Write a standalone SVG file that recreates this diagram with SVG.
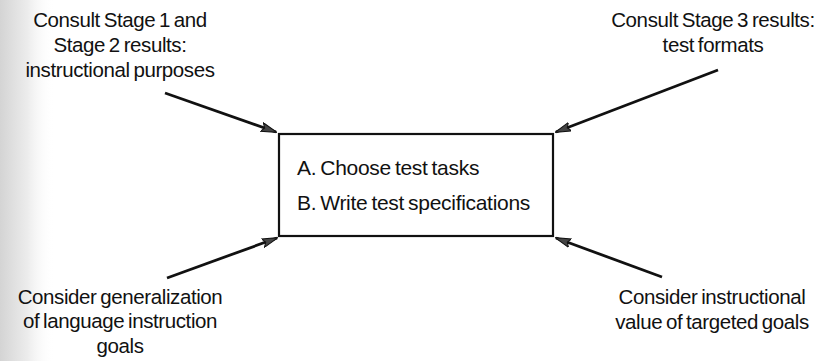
<svg xmlns="http://www.w3.org/2000/svg" width="832" height="361" viewBox="0 0 832 361">
<style>
text{font-family:"Liberation Sans",Arial,sans-serif;font-size:20.5px;fill:#111;letter-spacing:-0.4px;word-spacing:-1.5px}
.c{text-anchor:middle}
.b{font-size:21px;letter-spacing:-0.3px}
.box{fill:#fff;stroke:#111;stroke-width:2.2}
.arr{stroke:#111;stroke-width:2.8;fill:none;marker-end:url(#ah)}
</style>
<defs>
<linearGradient id="edge" x1="0" y1="0" x2="1" y2="0">
<stop offset="0" stop-color="#d4d4d4"/>
<stop offset="0.5" stop-color="#ececec"/>
<stop offset="1" stop-color="#ffffff" stop-opacity="0"/>
</linearGradient>
<marker id="ah" viewBox="0 0 16 10" refX="15" refY="5" markerWidth="16" markerHeight="10" markerUnits="userSpaceOnUse" orient="auto">
<path d="M0,0.5 L16,5 L0,9.5 L3,5 Z" fill="#444" stroke="#111" stroke-width="1"/>
</marker>
</defs>
<rect x="0" y="0" width="55" height="361" fill="url(#edge)"/>
<g id="connectors">
<line class="arr" x1="165" y1="93" x2="276" y2="132"/>
<line class="arr" x1="718" y1="70" x2="556" y2="132"/>
<line class="arr" x1="167" y1="278" x2="277" y2="238"/>
<line class="arr" x1="662" y1="277" x2="556" y2="238"/>
</g>
<g id="main">
<rect class="box" x="279" y="134" width="274" height="102"/>
<text class="b" x="297" y="175">A. Choose test tasks</text>
<text class="b" x="297" y="210">B. Write test specifications</text>
</g>
<g id="consult12">
<text class="c" x="120" y="27">Consult Stage 1 and</text>
<text class="c" x="120" y="52">Stage 2 results:</text>
<text class="c" x="120" y="77">instructional purposes</text>
</g>
<g id="consult3">
<text class="c" x="713" y="27">Consult Stage 3 results:</text>
<text class="c" x="713" y="52">test formats</text>
</g>
<g id="generalization">
<text class="c" x="120" y="304">Consider generalization</text>
<text class="c" x="120" y="328">of language instruction</text>
<text class="c" x="120" y="353">goals</text>
</g>
<g id="instructional">
<text class="c" x="712" y="304">Consider instructional</text>
<text class="c" x="712" y="329">value of targeted goals</text>
</g>
</svg>
